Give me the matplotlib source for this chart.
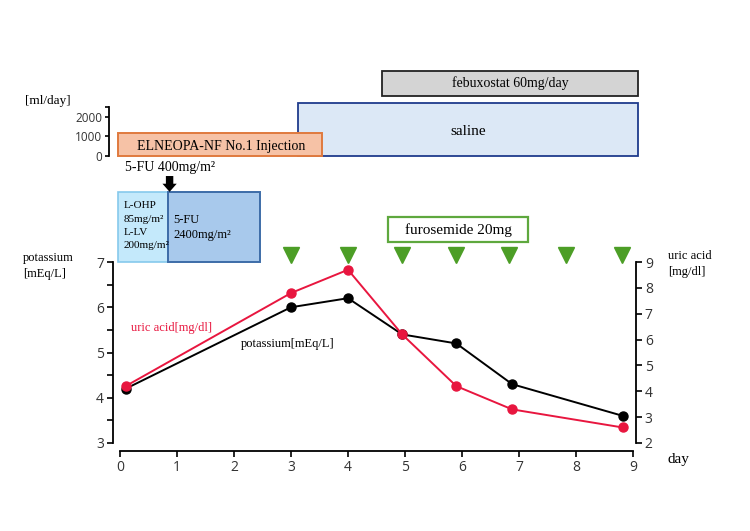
import matplotlib
matplotlib.use('Agg')
import matplotlib.pyplot as plt
from matplotlib.patches import Rectangle, FancyArrow

# lab values over time
days_k = [0.1, 3.0, 4.0, 4.95, 5.9, 6.88, 8.82]
potassium = [4.2, 6.0, 6.2, 5.4, 5.2, 4.3, 3.6]
days_ua = [0.1, 3.0, 4.0, 4.95, 5.9, 6.88, 8.82]
uric_acid = [4.2, 7.8, 8.7, 6.2, 4.2, 3.3, 2.6]

# furosemide 20mg doses
furosemide_days = [3.0, 4.0, 4.95, 5.9, 6.83, 7.82, 8.8]

# infusions [ml/day]: name, start day, end day, volume
elneopa = ("ELNEOPA-NF No.1 Injection", -0.03, 3.54, 1150)
saline = ("saline", 3.12, 9.09, 2700)
febuxostat = ("febuxostat 60mg/day", 4.6, 9.09)

# chemotherapy
chemo_lohp = ("L-OHP\n85mg/m²\nL-LV\n200mg/m²", -0.03, 0.84)
chemo_5fu = ("5-FU\n2400mg/m²", 0.84, 2.46)
bolus_day = 0.88

SERIF = 'Liberation Serif'
SANS = 'Open Sans'
RED = '#e8163f'
GREEN = '#4c9e26'
TICKCOL = '#333333'

W, H = 750, 531
fig = plt.figure(figsize=(7.5, 5.31), dpi=100)


def fx(px):
    return px / W


def fy(py):
    return 1 - py / H


def style_ticklabels(axis_obj, size):
    for lab in axis_obj.get_xticklabels() + axis_obj.get_yticklabels():
        lab.set_fontfamily(SANS)
        lab.set_fontsize(size)
        lab.set_color(TICKCOL)


# ---------- main panel ----------
ax = fig.add_axes([fx(120), fy(443), fx(633) - fx(120), fy(262) - fy(443)])
ax.set_xlim(0, 9)
ax.set_ylim(3, 7)
ax.plot(days_k, potassium, color='black', lw=1.4, marker='o', ms=6.5, zorder=3)
ax.set_xticks(range(10))
ax.set_yticks(range(3, 8))
ax.set_yticks([3.5, 4.5, 5.5, 6.5], minor=True)
ax.tick_params(axis='both', direction='out', length=4, width=1.2, pad=2.5)
ax.tick_params(axis='y', which='minor', length=4, width=1.2)
for s in ['top', 'right']:
    ax.spines[s].set_visible(False)
ax.spines['left'].set_position(('outward', 5))
ax.spines['bottom'].set_position(('outward', 5.8))
ax.spines['left'].set_linewidth(1.3)
ax.spines['bottom'].set_linewidth(1.3)
style_ticklabels(ax, 10)

ax2 = ax.twinx()
ax2.set_ylim(2, 9)
ax2.plot(days_ua, uric_acid, color=RED, lw=1.4, marker='o', ms=6.5, zorder=4)
ax2.set_yticks(range(2, 10))
ax2.tick_params(axis='y', direction='out', length=4, width=1.2, pad=2.5)
for s in ['top', 'left', 'bottom']:
    ax2.spines[s].set_visible(False)
ax2.spines['right'].set_position(('outward', 2))
ax2.spines['right'].set_linewidth(1.3)
style_ticklabels(ax2, 10)

ax.text(2.12, 5.18, "potassium[mEq/L]", fontsize=9, family=SERIF, ha='left', va='center')
ax.text(0.2, 5.55, "uric acid[mg/dl]", fontsize=9, family=SERIF, color=RED, ha='left', va='center')

fig.text(fx(23), fy(266), "potassium\n[mEq/L]", fontsize=9, family=SERIF, ha='left', va='center',
         linespacing=1.45)
fig.text(fx(668), fy(264), "uric acid\n[mg/dl]", fontsize=9, family=SERIF, ha='left', va='center',
         linespacing=1.45)
fig.text(fx(668), fy(460), "day", fontsize=11, family=SERIF, ha='left', va='center')

# furosemide markers
ax.plot(furosemide_days, [7.15] * len(furosemide_days), ls='none', marker='v', ms=11,
        color=GREEN, clip_on=False, zorder=5)
ax.add_patch(Rectangle((4.7, 7.44), 2.46, 0.55, facecolor='white', edgecolor='#5ea83e',
                       lw=1.6, clip_on=False))
ax.text(4.7 + 1.23, 7.715, "furosemide 20mg", fontsize=11, family=SERIF, ha='center', va='center')

# chemo boxes
name, s, e = chemo_lohp
ax.add_patch(Rectangle((s, 7.0), e - s, 1.55, facecolor='#c4e9fb', edgecolor='#86c9ec',
                       lw=1.2, clip_on=False))
ax.text(s + 0.09, 7.8, name, fontsize=8, family=SERIF, ha='left', va='center', linespacing=1.6)
name, s, e = chemo_5fu
ax.add_patch(Rectangle((s, 7.0), e - s, 1.55, facecolor='#a8c9ec', edgecolor='#3d6ca8',
                       lw=1.4, clip_on=False))
ax.text(s + 0.1, 7.76, name, fontsize=9, family=SERIF, ha='left', va='center', linespacing=1.4)

ax.add_patch(FancyArrow(bolus_day - 0.01, 8.9, 0, -0.35, width=0.13, head_width=0.25,
                        head_length=0.18, length_includes_head=True, color='black', lw=0,
                        clip_on=False))
ax.text(0.09, 9.09, "5-FU 400mg/m²", fontsize=10, family=SERIF, ha='left', va='center')

# ---------- infusion panel ----------
axt = fig.add_axes([fx(120), fy(156), fx(633) - fx(120), fy(107) - fy(156)])
axt.set_xlim(0, 9)
axt.set_ylim(0, 2500)
axt.patch.set_alpha(0)
axt.set_xticks([])
axt.set_yticks([0, 1000, 2000])
axt.set_yticks([2500], minor=True)
axt.tick_params(axis='y', which='both', direction='out', length=3, width=1.2, pad=2)
for s_ in ['top', 'right', 'bottom']:
    axt.spines[s_].set_visible(False)
axt.spines['left'].set_position(('outward', 8))
axt.spines['left'].set_linewidth(1.3)
style_ticklabels(axt, 8.5)

name, s, e, v = saline
axt.add_patch(Rectangle((s, 0), e - s, v, facecolor='#dce8f6', edgecolor='#1f3b8c',
                        lw=1.3, clip_on=False, zorder=2))
axt.text((s + e) / 2, 1250, name, fontsize=11, family=SERIF, ha='center', va='center')
name, s, e, v = elneopa
axt.add_patch(Rectangle((s, 0), e - s, v, facecolor='#f6c2a6', edgecolor='#e07a3e',
                        lw=1.4, clip_on=False, zorder=3))
axt.text(1.77, 500, name, fontsize=10, family=SERIF, ha='center', va='center', zorder=4)
name, s, e = febuxostat
axt.add_patch(Rectangle((s, 3080), e - s, 1280, facecolor='#d4d4d4', edgecolor='#222222',
                        lw=1.3, clip_on=False, zorder=2))
axt.text((s + e) / 2, 3720, name, fontsize=10, family=SERIF, ha='center', va='center')

fig.text(fx(25), fy(101), "[ml/day]", fontsize=9.5, family=SERIF, ha='left', va='center')

fig.savefig('out.png', dpi=100)
